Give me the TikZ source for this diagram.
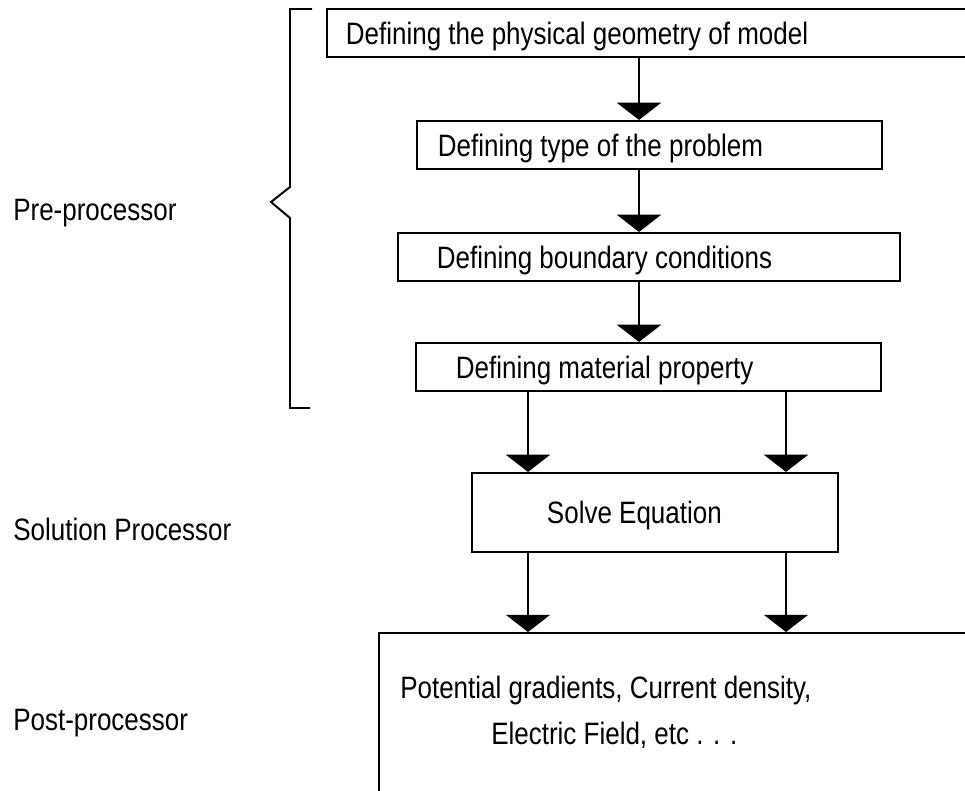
\documentclass[tikz,border=0pt]{standalone}
\usepackage{fontspec}
\setmainfont{Liberation Sans}[FakeStretch=0.84,WordSpace=1.0]
\usetikzlibrary{arrows.meta}

\begin{document}
\begin{tikzpicture}[x=0.025cm,y=-0.025cm,font=\fontsize{22}{26}\selectfont,
 stage/.style={draw,line width=1.5pt,align=flush left,minimum height=1.2cm,text height=0.56cm,text depth=0pt},
 flow/.style={line width=1.4pt,-{Triangle[width=1.1cm,length=0.43cm]}},
 tag/.style={anchor=base west,inner sep=0pt}]
 \useasboundingbox (0,0) rectangle (965,790);
 \clip (0,0) rectangle (965,790);
 \node[stage,text width=15.5cm,inner xsep=0.475cm] (geom) at (656,33) {Defining the physical geometry of model};
 \node[stage,text width=10.575cm,inner xsep=0.525cm] (type) at (649.5,145) {Defining type of the problem};
 \node[stage,text width=10.6cm,inner xsep=0.975cm] (bound) at (649,257) {Defining boundary conditions};
 \node[stage,text width=9.625cm,inner xsep=1cm] (mat) at (648.5,367) {Defining material property};
 \node[stage,text width=5.4cm,inner xsep=1.875cm,minimum height=1.975cm] (solve) at (655,512.5) {Solve Equation};
 \node[draw,line width=1.5pt,minimum width=15.175cm,minimum height=4.45cm,anchor=north west] (result) at (378,632) {};
 \node[tag] (grad) at (400,698) {Potential gradients, Current density,};
 \node[tag] (field) at (491,744) {Electric Field, etc . . .};
 \coordinate (c) at (639,0);
 \coordinate (l) at (528,0);
 \coordinate (r) at (786,0);
 \draw[flow] (geom.south -| c) -- (type.north -| c);
 \draw[flow] (type.south -| c) -- (bound.north -| c);
 \draw[flow] (bound.south -| c) -- (mat.north -| c);
 \draw[flow] (mat.south -| l) -- (solve.north -| l);
 \draw[flow] (mat.south -| r) -- (solve.north -| r);
 \draw[flow] (solve.south -| l) -- (result.north -| l);
 \draw[flow] (solve.south -| r) -- (result.north -| r);
 \draw[line width=1.4pt] (312,9)--(290,9)--(290,187)--(271,202)--(290,218)--(290,408)--(310,408);
 \node[tag] (pre) at (13,220) {Pre-processor};
 \node[tag] (sol) at (13,540) {Solution Processor};
 \node[tag] (post) at (13,730) {Post-processor};
\end{tikzpicture}
\end{document}
